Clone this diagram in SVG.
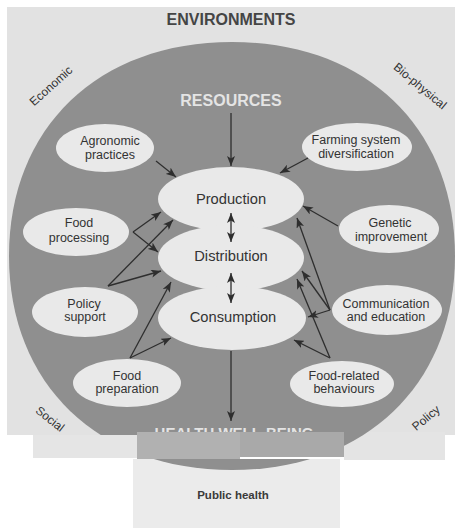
<svg xmlns="http://www.w3.org/2000/svg" width="463" height="528" viewBox="0 0 463 528">
<style>
  .t { font-family: "Liberation Sans", Arial, sans-serif; fill: #333; text-anchor: middle; }
  .node { fill: #e9e9e9; }
  .small { font-size: 12.5px; }
  .main { font-size: 14.7px; }
  .env { font-size: 12px; }
  .big { font-size: 16px; font-weight: bold; fill: #454545; }
  .light { font-size: 16px; font-weight: bold; fill: #e4e4e4; }
  .conn line { stroke: #2e2e2e; stroke-width: 1.3; fill: none; marker-end: url(#ah); }
  .conn line.dbl { marker-start: url(#ah); }
</style>
<defs>
  <marker id="ah" viewBox="0 0 10 8" refX="10" refY="4" markerWidth="10" markerHeight="8" markerUnits="userSpaceOnUse" orient="auto-start-reverse">
    <path d="M0,0 L10,4 L0,8 L2.5,4 z" fill="#2e2e2e"/>
  </marker>
  <clipPath id="scan">
    <rect x="7" y="7" width="448" height="428"/>
    <rect x="344" y="432" width="101" height="28"/>
    <rect x="133" y="459" width="207" height="69"/>
  </clipPath>
</defs>
<rect x="0" y="0" width="463" height="528" fill="#ffffff"/>
<g id="scan-background">
  <rect x="7" y="7" width="448" height="428" fill="#e2e2e2"/>
  <rect x="344" y="432" width="101" height="28" fill="#e4e4e4"/>
  <rect x="133" y="459" width="207" height="69" fill="#ebebeb"/>
</g>
<g id="environment-circle">
  <path clip-path="url(#scan)" fill="#8f8f8f" d="M455,256 C455,384.4 365.8,470 232,470 C98.2,470 9,384.4 9,256 C9,127.6 98.2,42 232,42 C365.8,42 455,127.6 455,256 Z"/>
</g>
<g id="labels">
  <text class="t big" x="231" y="25">ENVIRONMENTS</text>
  <text class="t env" transform="translate(51,86) rotate(-42)" y="4">Economic</text>
  <text class="t env" transform="translate(420,86) rotate(40)" y="4">Bio-physical</text>
  <text class="t env" transform="translate(50,419) rotate(38)" y="4">Social</text>
  <text class="t env" transform="translate(426,418) rotate(-40)" y="4">Policy</text>
  <text class="t light" x="231" y="106">RESOURCES</text>
  <text class="t light" x="234" y="438" style="font-size:15px">HEALTH WELL-BEING</text>
</g>
<g id="node-production">
  <ellipse class="node" cx="231" cy="199" rx="73" ry="32"/>
  <text class="t main" x="231" y="203.5">Production</text>
</g>
<g id="node-distribution">
  <ellipse class="node" cx="231" cy="258" rx="73" ry="33"/>
  <text class="t main" x="231" y="260.5">Distribution</text>
</g>
<g id="node-consumption">
  <ellipse class="node" cx="232" cy="318" rx="74" ry="32"/>
  <text class="t main" x="233" y="321.5">Consumption</text>
</g>
<g id="node-agronomic">
  <ellipse class="node" cx="105" cy="148" rx="49" ry="24"/>
  <text class="t small" x="110" y="145">Agronomic</text>
  <text class="t small" x="110" y="158.5">practices</text>
</g>
<g id="node-farming">
  <ellipse class="node" cx="357" cy="147" rx="55" ry="24"/>
  <text class="t small" x="356" y="144">Farming system</text>
  <text class="t small" x="356" y="158">diversification</text>
</g>
<g id="node-food-processing">
  <ellipse class="node" cx="76" cy="232" rx="53" ry="24"/>
  <text class="t small" x="79" y="227">Food</text>
  <text class="t small" x="79" y="242">processing</text>
</g>
<g id="node-genetic">
  <ellipse class="node" cx="389" cy="229" rx="50" ry="24"/>
  <text class="t small" x="390" y="227">Genetic</text>
  <text class="t small" x="391" y="241">improvement</text>
</g>
<g id="node-policy">
  <ellipse class="node" cx="85" cy="312" rx="53" ry="25"/>
  <text class="t small" x="84" y="308">Policy</text>
  <text class="t small" x="85" y="321">support</text>
</g>
<g id="node-communication">
  <ellipse class="node" cx="387" cy="310" rx="55" ry="25"/>
  <text class="t small" x="386" y="308">Communication</text>
  <text class="t small" x="386" y="321">and education</text>
</g>
<g id="node-food-preparation">
  <ellipse class="node" cx="127" cy="383" rx="54" ry="24"/>
  <text class="t small" x="127" y="380">Food</text>
  <text class="t small" x="127" y="393">preparation</text>
</g>
<g id="node-food-behaviours">
  <ellipse class="node" cx="342" cy="384" rx="52" ry="23"/>
  <text class="t small" x="344" y="380">Food-related</text>
  <text class="t small" x="344" y="393">behaviours</text>
</g>
<g id="connectors" class="conn">
  <line x1="231" y1="113" x2="231" y2="166"/>
  <line class="dbl" x1="231" y1="213" x2="231" y2="242"/>
  <line class="dbl" x1="231" y1="273" x2="231" y2="303"/>
  <line x1="231" y1="351" x2="231" y2="421"/>
  <line x1="156" y1="161" x2="176" y2="177"/>
  <line x1="133" y1="232" x2="161" y2="212"/>
  <line x1="133" y1="232" x2="158" y2="252"/>
  <line x1="108" y1="286" x2="173" y2="220"/>
  <line x1="108" y1="286" x2="161" y2="271"/>
  <line x1="130" y1="358" x2="171" y2="282"/>
  <line x1="130" y1="358" x2="171" y2="338"/>
  <line x1="308" y1="158" x2="280" y2="173"/>
  <line x1="338" y1="226" x2="303" y2="206"/>
  <line x1="330" y1="310" x2="297" y2="218"/>
  <line x1="330" y1="310" x2="302" y2="271"/>
  <line x1="330" y1="310" x2="308" y2="317"/>
  <line x1="330" y1="358" x2="297" y2="279"/>
  <line x1="330" y1="358" x2="294" y2="340"/>
</g>
<g id="masks">
  <rect x="33" y="435" width="104" height="23" fill="#e5e5e5"/>
  <rect x="137" y="432" width="103" height="27" fill="#b1b1b1"/>
  <rect x="240" y="432" width="104" height="25" fill="#a9a9a9"/>
</g>
<g id="public-health">
  <text class="t" x="233" y="499" style="font-size:11.5px;font-weight:bold;fill:#3a3a3a">Public health</text>
</g>
</svg>
